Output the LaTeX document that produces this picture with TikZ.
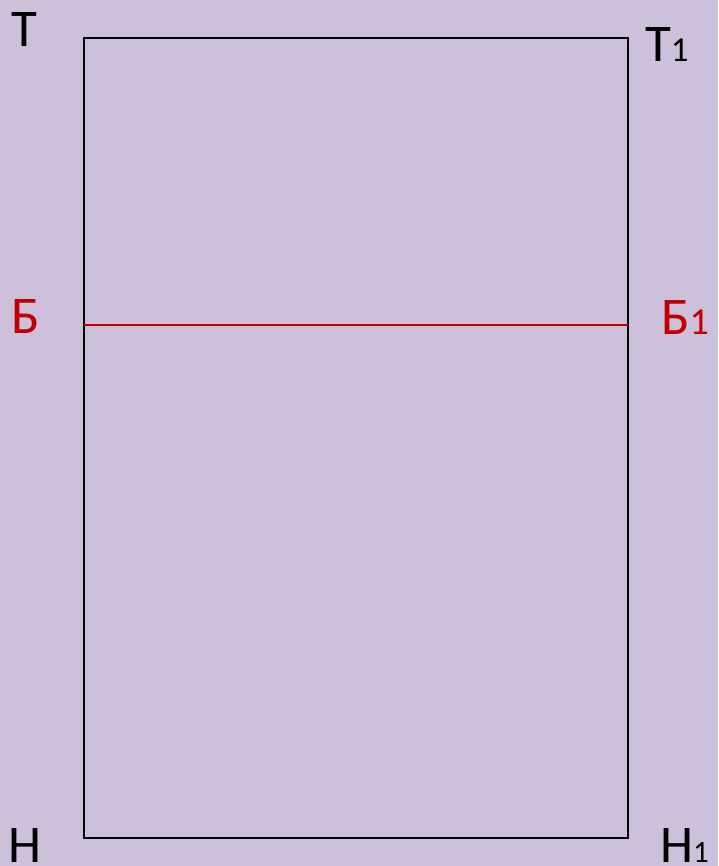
\documentclass[tikz,border=0pt]{standalone}
\usepackage{fontspec}
\setmainfont{Carlito}
\definecolor{bg}{HTML}{CCC0DA}
\definecolor{redline}{HTML}{C00000}
\tikzset{
  lbl/.style={anchor=base west, inner sep=0pt, outer sep=0pt},
  big/.style={font=\fontsize{53}{53}\selectfont},
  frame/.style={draw=black, line width=1.6pt},
}
\newcommand{\smallone}[1]{{\fontsize{#1}{#1}\selectfont 1}}
\begin{document}
\begin{tikzpicture}[x=1pt,y=-1pt]
\fill[bg] (0,0) rectangle (718,866);
\useasboundingbox (0,0) rectangle (718,866);
\coordinate (TL) at (84,38);
\coordinate (TR) at (628,38);
\coordinate (BL) at (84,838);
\coordinate (BR) at (628,838);
\coordinate (ML) at (84,325);
\coordinate (MR) at (628,325);
\draw[frame] (TL) -- (TR) -- (BR) -- (BL) -- cycle;
\draw[redline, line width=1.3pt] (ML) -- (MR);
\node[lbl, big] (t) at (11,47) {Т};
\node[lbl, big] (t1) at (645,62) {Т\smallone{35}};
\node[lbl, big, text=redline] (b) at (11,333) {Б};
\node[lbl, big, text=redline] (b1) at (661,334) {Б\smallone{38}};
\node[lbl, big] (n) at (9,862) {Н};
\node[lbl, big] (n1) at (660,862) {Н\smallone{31}};
\end{tikzpicture}
\end{document}
